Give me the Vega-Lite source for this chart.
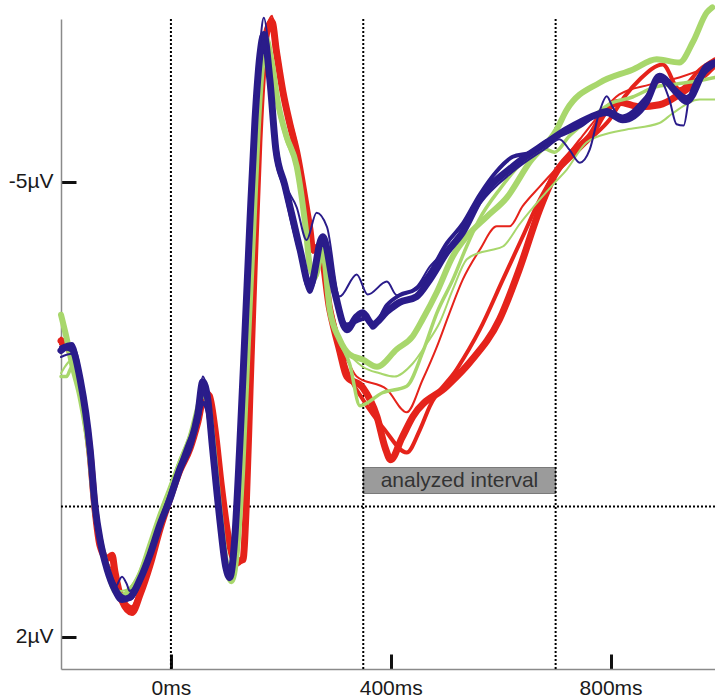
{
  "$schema": "https://vega.github.io/schema/vega-lite/v6.json",
  "width": 654,
  "height": 650,
  "autosize": {"type": "none"},
  "padding": {"left": 61, "top": 19, "right": 0, "bottom": 29},
  "background": "white",
  "config": {"view": {"stroke": null}, "font": "Liberation Sans"},
  "datasets": {
    "erp": [
      {"trace":"R1","ms":-200,"uv":-2.55},{"trace":"R1","ms":-190,"uv":-2.5},{"trace":"R1","ms":-180,"uv":-2.3},{"trace":"R1","ms":-165,"uv":-1.85},{"trace":"R1","ms":-147,"uv":-0.8},{"trace":"R1","ms":-138,"uv":0.05},{"trace":"R1","ms":-129,"uv":0.6},{"trace":"R1","ms":-116,"uv":0.8},{"trace":"R1","ms":-107,"uv":0.75},{"trace":"R1","ms":-102,"uv":1.0},{"trace":"R1","ms":-89,"uv":1.45},{"trace":"R1","ms":-71,"uv":1.63},{"trace":"R1","ms":-56,"uv":1.35},{"trace":"R1","ms":-38,"uv":0.9},{"trace":"R1","ms":-20,"uv":0.35},{"trace":"R1","ms":-2,"uv":-0.12},{"trace":"R1","ms":16,"uv":-0.55},{"trace":"R1","ms":35,"uv":-0.9},{"trace":"R1","ms":49,"uv":-1.3},{"trace":"R1","ms":62,"uv":-1.75},{"trace":"R1","ms":70,"uv":-1.7},{"trace":"R1","ms":80,"uv":-1.2},{"trace":"R1","ms":92,"uv":-0.3},{"trace":"R1","ms":105,"uv":0.5},{"trace":"R1","ms":118,"uv":0.85},{"trace":"R1","ms":131,"uv":0.82},{"trace":"R1","ms":137,"uv":0.0},{"trace":"R1","ms":144,"uv":-1.8},{"trace":"R1","ms":152,"uv":-3.8},{"trace":"R1","ms":160,"uv":-5.6},{"trace":"R1","ms":168,"uv":-6.8},{"trace":"R1","ms":176,"uv":-7.35},{"trace":"R1","ms":184,"uv":-7.45},{"trace":"R1","ms":192,"uv":-7.0},{"trace":"R1","ms":204,"uv":-6.37},{"trace":"R1","ms":216,"uv":-5.9},{"trace":"R1","ms":229,"uv":-5.45},{"trace":"R1","ms":247,"uv":-4.57},{"trace":"R1","ms":253,"uv":-4.26},{"trace":"R1","ms":258,"uv":-3.95},{"trace":"R1","ms":270,"uv":-4.0},{"trace":"R1","ms":289,"uv":-3.03},{"trace":"R1","ms":307,"uv":-2.4},{"trace":"R1","ms":320,"uv":-2.0},{"trace":"R1","ms":349,"uv":-1.83},{"trace":"R1","ms":375,"uv":-1.38},{"trace":"R1","ms":390,"uv":-0.9},{"trace":"R1","ms":400,"uv":-0.72},{"trace":"R1","ms":420,"uv":-1.05},{"trace":"R1","ms":440,"uv":-1.38},{"trace":"R1","ms":502,"uv":-1.85},{"trace":"R1","ms":544,"uv":-2.22},{"trace":"R1","ms":598,"uv":-2.88},{"trace":"R1","ms":634,"uv":-3.65},{"trace":"R1","ms":671,"uv":-4.57},{"trace":"R1","ms":698,"uv":-5.1},{"trace":"R1","ms":731,"uv":-5.45},{"trace":"R1","ms":762,"uv":-5.69},{"trace":"R1","ms":793,"uv":-6.11},{"trace":"R1","ms":816,"uv":-6.22},{"trace":"R1","ms":853,"uv":-6.15},{"trace":"R1","ms":889,"uv":-6.18},{"trace":"R1","ms":925,"uv":-6.34},{"trace":"R1","ms":975,"uv":-6.68},{"trace":"R1","ms":990,"uv":-6.8},

      {"trace":"R2","ms":-200,"uv":-2.5},{"trace":"R2","ms":-180,"uv":-2.35},{"trace":"R2","ms":-165,"uv":-1.9},{"trace":"R2","ms":-147,"uv":-0.85},{"trace":"R2","ms":-138,"uv":0.0},{"trace":"R2","ms":-129,"uv":0.55},{"trace":"R2","ms":-116,"uv":0.9},{"trace":"R2","ms":-102,"uv":1.15},{"trace":"R2","ms":-89,"uv":1.4},{"trace":"R2","ms":-71,"uv":1.55},{"trace":"R2","ms":-56,"uv":1.3},{"trace":"R2","ms":-38,"uv":0.85},{"trace":"R2","ms":-20,"uv":0.3},{"trace":"R2","ms":-2,"uv":-0.15},{"trace":"R2","ms":16,"uv":-0.6},{"trace":"R2","ms":35,"uv":-0.95},{"trace":"R2","ms":49,"uv":-1.35},{"trace":"R2","ms":62,"uv":-1.7},{"trace":"R2","ms":70,"uv":-1.65},{"trace":"R2","ms":80,"uv":-1.15},{"trace":"R2","ms":92,"uv":-0.25},{"trace":"R2","ms":105,"uv":0.55},{"trace":"R2","ms":118,"uv":0.9},{"trace":"R2","ms":131,"uv":0.8},{"trace":"R2","ms":137,"uv":-0.1},{"trace":"R2","ms":144,"uv":-1.9},{"trace":"R2","ms":152,"uv":-3.9},{"trace":"R2","ms":160,"uv":-5.7},{"trace":"R2","ms":168,"uv":-6.9},{"trace":"R2","ms":176,"uv":-7.4},{"trace":"R2","ms":184,"uv":-7.5},{"trace":"R2","ms":192,"uv":-7.1},{"trace":"R2","ms":204,"uv":-6.4},{"trace":"R2","ms":229,"uv":-5.5},{"trace":"R2","ms":247,"uv":-4.6},{"trace":"R2","ms":253,"uv":-4.3},{"trace":"R2","ms":258,"uv":-4.0},{"trace":"R2","ms":270,"uv":-3.95},{"trace":"R2","ms":289,"uv":-3.1},{"trace":"R2","ms":307,"uv":-2.5},{"trace":"R2","ms":320,"uv":-2.11},{"trace":"R2","ms":349,"uv":-1.65},{"trace":"R2","ms":389,"uv":-1.18},{"trace":"R2","ms":429,"uv":-0.83},{"trace":"R2","ms":453,"uv":-1.18},{"trace":"R2","ms":471,"uv":-1.54},{"trace":"R2","ms":520,"uv":-2.11},{"trace":"R2","ms":562,"uv":-2.72},{"trace":"R2","ms":604,"uv":-3.49},{"trace":"R2","ms":640,"uv":-4.15},{"trace":"R2","ms":671,"uv":-4.72},{"trace":"R2","ms":698,"uv":-5.11},{"trace":"R2","ms":725,"uv":-5.34},{"trace":"R2","ms":762,"uv":-5.65},{"trace":"R2","ms":798,"uv":-5.95},{"trace":"R2","ms":825,"uv":-6.3},{"trace":"R2","ms":853,"uv":-6.57},{"trace":"R2","ms":895,"uv":-6.8},{"trace":"R2","ms":925,"uv":-6.42},{"trace":"R2","ms":962,"uv":-6.72},{"trace":"R2","ms":990,"uv":-6.88},

      {"trace":"R3","ms":-200,"uv":-2.6},{"trace":"R3","ms":-180,"uv":-2.4},{"trace":"R3","ms":-165,"uv":-1.9},{"trace":"R3","ms":-147,"uv":-0.82},{"trace":"R3","ms":-138,"uv":0.02},{"trace":"R3","ms":-129,"uv":0.58},{"trace":"R3","ms":-116,"uv":0.85},{"trace":"R3","ms":-102,"uv":1.1},{"trace":"R3","ms":-89,"uv":1.4},{"trace":"R3","ms":-71,"uv":1.58},{"trace":"R3","ms":-56,"uv":1.32},{"trace":"R3","ms":-38,"uv":0.88},{"trace":"R3","ms":-20,"uv":0.32},{"trace":"R3","ms":-2,"uv":-0.1},{"trace":"R3","ms":16,"uv":-0.58},{"trace":"R3","ms":35,"uv":-0.92},{"trace":"R3","ms":49,"uv":-1.32},{"trace":"R3","ms":62,"uv":-1.78},{"trace":"R3","ms":70,"uv":-1.72},{"trace":"R3","ms":80,"uv":-1.25},{"trace":"R3","ms":92,"uv":-0.35},{"trace":"R3","ms":105,"uv":0.45},{"trace":"R3","ms":118,"uv":0.8},{"trace":"R3","ms":131,"uv":0.78},{"trace":"R3","ms":137,"uv":-0.05},{"trace":"R3","ms":144,"uv":-1.85},{"trace":"R3","ms":152,"uv":-3.85},{"trace":"R3","ms":160,"uv":-5.65},{"trace":"R3","ms":168,"uv":-6.85},{"trace":"R3","ms":176,"uv":-7.4},{"trace":"R3","ms":184,"uv":-7.55},{"trace":"R3","ms":192,"uv":-7.05},{"trace":"R3","ms":204,"uv":-6.35},{"trace":"R3","ms":229,"uv":-5.4},{"trace":"R3","ms":247,"uv":-4.5},{"trace":"R3","ms":253,"uv":-4.2},{"trace":"R3","ms":258,"uv":-3.9},{"trace":"R3","ms":270,"uv":-3.95},{"trace":"R3","ms":289,"uv":-3.0},{"trace":"R3","ms":307,"uv":-2.42},{"trace":"R3","ms":320,"uv":-2.26},{"trace":"R3","ms":338,"uv":-2.0},{"trace":"R3","ms":393,"uv":-1.8},{"trace":"R3","ms":429,"uv":-1.45},{"trace":"R3","ms":458,"uv":-1.95},{"trace":"R3","ms":484,"uv":-2.46},{"trace":"R3","ms":507,"uv":-2.98},{"trace":"R3","ms":531,"uv":-3.49},{"trace":"R3","ms":562,"uv":-3.95},{"trace":"R3","ms":593,"uv":-4.31},{"trace":"R3","ms":616,"uv":-4.31},{"trace":"R3","ms":640,"uv":-4.62},{"trace":"R3","ms":671,"uv":-4.92},{"trace":"R3","ms":707,"uv":-5.26},{"trace":"R3","ms":744,"uv":-5.65},{"trace":"R3","ms":780,"uv":-6.03},{"trace":"R3","ms":816,"uv":-6.34},{"trace":"R3","ms":871,"uv":-6.49},{"trace":"R3","ms":925,"uv":-6.6},{"trace":"R3","ms":990,"uv":-6.8},

      {"trace":"G1","ms":-200,"uv":-2.95},{"trace":"G1","ms":-190,"uv":-2.6},{"trace":"G1","ms":-180,"uv":-2.2},{"trace":"G1","ms":-165,"uv":-1.7},{"trace":"G1","ms":-147,"uv":-0.75},{"trace":"G1","ms":-138,"uv":0.05},{"trace":"G1","ms":-129,"uv":0.5},{"trace":"G1","ms":-116,"uv":0.95},{"trace":"G1","ms":-102,"uv":1.3},{"trace":"G1","ms":-89,"uv":1.38},{"trace":"G1","ms":-75,"uv":1.3},{"trace":"G1","ms":-56,"uv":1.05},{"trace":"G1","ms":-38,"uv":0.6},{"trace":"G1","ms":-20,"uv":0.15},{"trace":"G1","ms":-2,"uv":-0.25},{"trace":"G1","ms":16,"uv":-0.65},{"trace":"G1","ms":35,"uv":-1.05},{"trace":"G1","ms":49,"uv":-1.5},{"trace":"G1","ms":58,"uv":-1.78},{"trace":"G1","ms":67,"uv":-1.6},{"trace":"G1","ms":76,"uv":-1.0},{"trace":"G1","ms":89,"uv":0.1},{"trace":"G1","ms":100,"uv":0.85},{"trace":"G1","ms":110,"uv":1.15},{"trace":"G1","ms":120,"uv":0.7},{"trace":"G1","ms":130,"uv":-0.6},{"trace":"G1","ms":140,"uv":-2.5},{"trace":"G1","ms":150,"uv":-4.3},{"trace":"G1","ms":158,"uv":-5.8},{"trace":"G1","ms":166,"uv":-6.8},{"trace":"G1","ms":173,"uv":-7.2},{"trace":"G1","ms":182,"uv":-6.9},{"trace":"G1","ms":195,"uv":-6.2},{"trace":"G1","ms":210,"uv":-5.7},{"trace":"G1","ms":229,"uv":-5.23},{"trace":"G1","ms":245,"uv":-4.3},{"trace":"G1","ms":253,"uv":-3.69},{"trace":"G1","ms":262,"uv":-3.54},{"trace":"G1","ms":276,"uv":-3.95},{"trace":"G1","ms":289,"uv":-3.03},{"trace":"G1","ms":307,"uv":-2.57},{"trace":"G1","ms":325,"uv":-2.34},{"trace":"G1","ms":349,"uv":-2.26},{"trace":"G1","ms":375,"uv":-2.15},{"trace":"G1","ms":411,"uv":-2.42},{"trace":"G1","ms":440,"uv":-2.62},{"trace":"G1","ms":458,"uv":-2.88},{"trace":"G1","ms":484,"uv":-3.3},{"trace":"G1","ms":513,"uv":-3.85},{"trace":"G1","ms":538,"uv":-4.15},{"trace":"G1","ms":575,"uv":-4.46},{"trace":"G1","ms":611,"uv":-4.75},{"trace":"G1","ms":653,"uv":-5.3},{"trace":"G1","ms":702,"uv":-5.8},{"trace":"G1","ms":720,"uv":-6.1},{"trace":"G1","ms":780,"uv":-6.52},{"trace":"G1","ms":840,"uv":-6.72},{"trace":"G1","ms":884,"uv":-6.88},{"trace":"G1","ms":925,"uv":-6.83},{"trace":"G1","ms":950,"uv":-7.15},{"trace":"G1","ms":975,"uv":-7.6},{"trace":"G1","ms":985,"uv":-7.68},

      {"trace":"G2","ms":-200,"uv":-2.0},{"trace":"G2","ms":-190,"uv":-2.0},{"trace":"G2","ms":-180,"uv":-2.15},{"trace":"G2","ms":-165,"uv":-1.75},{"trace":"G2","ms":-147,"uv":-0.8},{"trace":"G2","ms":-138,"uv":0.0},{"trace":"G2","ms":-129,"uv":0.48},{"trace":"G2","ms":-116,"uv":0.9},{"trace":"G2","ms":-102,"uv":1.25},{"trace":"G2","ms":-89,"uv":1.35},{"trace":"G2","ms":-75,"uv":1.28},{"trace":"G2","ms":-56,"uv":1.0},{"trace":"G2","ms":-38,"uv":0.58},{"trace":"G2","ms":-20,"uv":0.12},{"trace":"G2","ms":-2,"uv":-0.28},{"trace":"G2","ms":16,"uv":-0.7},{"trace":"G2","ms":35,"uv":-1.1},{"trace":"G2","ms":49,"uv":-1.45},{"trace":"G2","ms":58,"uv":-1.7},{"trace":"G2","ms":67,"uv":-1.55},{"trace":"G2","ms":76,"uv":-0.95},{"trace":"G2","ms":89,"uv":0.15},{"trace":"G2","ms":100,"uv":0.88},{"trace":"G2","ms":110,"uv":1.12},{"trace":"G2","ms":120,"uv":0.72},{"trace":"G2","ms":130,"uv":-0.55},{"trace":"G2","ms":140,"uv":-2.4},{"trace":"G2","ms":150,"uv":-4.2},{"trace":"G2","ms":158,"uv":-5.7},{"trace":"G2","ms":166,"uv":-6.7},{"trace":"G2","ms":173,"uv":-7.1},{"trace":"G2","ms":182,"uv":-6.85},{"trace":"G2","ms":195,"uv":-6.15},{"trace":"G2","ms":210,"uv":-5.65},{"trace":"G2","ms":229,"uv":-5.2},{"trace":"G2","ms":245,"uv":-4.25},{"trace":"G2","ms":253,"uv":-3.7},{"trace":"G2","ms":262,"uv":-3.5},{"trace":"G2","ms":276,"uv":-3.9},{"trace":"G2","ms":289,"uv":-3.0},{"trace":"G2","ms":307,"uv":-2.55},{"trace":"G2","ms":325,"uv":-2.2},{"trace":"G2","ms":344,"uv":-1.55},{"trace":"G2","ms":385,"uv":-1.75},{"trace":"G2","ms":429,"uv":-1.85},{"trace":"G2","ms":458,"uv":-2.37},{"trace":"G2","ms":484,"uv":-2.98},{"trace":"G2","ms":513,"uv":-3.49},{"trace":"G2","ms":538,"uv":-4.0},{"trace":"G2","ms":560,"uv":-4.4},{"trace":"G2","ms":600,"uv":-4.9},{"trace":"G2","ms":640,"uv":-5.3},{"trace":"G2","ms":680,"uv":-5.5},{"trace":"G2","ms":698,"uv":-5.45},{"trace":"G2","ms":725,"uv":-5.7},{"trace":"G2","ms":760,"uv":-5.95},{"trace":"G2","ms":800,"uv":-6.2},{"trace":"G2","ms":840,"uv":-6.3},{"trace":"G2","ms":880,"uv":-6.45},{"trace":"G2","ms":920,"uv":-6.5},{"trace":"G2","ms":960,"uv":-6.55},{"trace":"G2","ms":990,"uv":-6.6},

      {"trace":"G3","ms":-200,"uv":-2.05},{"trace":"G3","ms":-180,"uv":-2.25},{"trace":"G3","ms":-165,"uv":-1.72},{"trace":"G3","ms":-147,"uv":-0.7},{"trace":"G3","ms":-138,"uv":0.08},{"trace":"G3","ms":-129,"uv":0.55},{"trace":"G3","ms":-116,"uv":1.0},{"trace":"G3","ms":-102,"uv":1.28},{"trace":"G3","ms":-89,"uv":1.3},{"trace":"G3","ms":-75,"uv":1.25},{"trace":"G3","ms":-56,"uv":1.0},{"trace":"G3","ms":-38,"uv":0.55},{"trace":"G3","ms":-20,"uv":0.1},{"trace":"G3","ms":-2,"uv":-0.3},{"trace":"G3","ms":16,"uv":-0.72},{"trace":"G3","ms":35,"uv":-1.1},{"trace":"G3","ms":49,"uv":-1.55},{"trace":"G3","ms":58,"uv":-1.8},{"trace":"G3","ms":67,"uv":-1.62},{"trace":"G3","ms":76,"uv":-1.05},{"trace":"G3","ms":89,"uv":0.05},{"trace":"G3","ms":100,"uv":0.8},{"trace":"G3","ms":110,"uv":1.1},{"trace":"G3","ms":120,"uv":0.75},{"trace":"G3","ms":130,"uv":-0.5},{"trace":"G3","ms":140,"uv":-2.45},{"trace":"G3","ms":150,"uv":-4.25},{"trace":"G3","ms":158,"uv":-5.75},{"trace":"G3","ms":166,"uv":-6.75},{"trace":"G3","ms":173,"uv":-7.15},{"trace":"G3","ms":182,"uv":-6.9},{"trace":"G3","ms":195,"uv":-6.25},{"trace":"G3","ms":210,"uv":-5.75},{"trace":"G3","ms":229,"uv":-5.3},{"trace":"G3","ms":245,"uv":-4.35},{"trace":"G3","ms":253,"uv":-3.75},{"trace":"G3","ms":262,"uv":-3.6},{"trace":"G3","ms":276,"uv":-3.95},{"trace":"G3","ms":289,"uv":-3.1},{"trace":"G3","ms":307,"uv":-2.6},{"trace":"G3","ms":320,"uv":-2.4},{"trace":"G3","ms":349,"uv":-2.15},{"trace":"G3","ms":380,"uv":-2.05},{"trace":"G3","ms":407,"uv":-2.0},{"trace":"G3","ms":440,"uv":-2.2},{"trace":"G3","ms":465,"uv":-2.5},{"trace":"G3","ms":489,"uv":-2.83},{"trace":"G3","ms":513,"uv":-3.34},{"trace":"G3","ms":538,"uv":-3.8},{"trace":"G3","ms":560,"uv":-3.9},{"trace":"G3","ms":585,"uv":-3.95},{"trace":"G3","ms":604,"uv":-4.0},{"trace":"G3","ms":635,"uv":-4.35},{"trace":"G3","ms":671,"uv":-4.72},{"trace":"G3","ms":698,"uv":-4.98},{"trace":"G3","ms":720,"uv":-5.18},{"trace":"G3","ms":756,"uv":-5.6},{"trace":"G3","ms":800,"uv":-5.75},{"trace":"G3","ms":829,"uv":-5.8},{"trace":"G3","ms":889,"uv":-5.9},{"trace":"G3","ms":913,"uv":-6.05},{"trace":"G3","ms":962,"uv":-6.26},{"trace":"G3","ms":990,"uv":-6.26},

      {"trace":"B1","ms":-200,"uv":-2.4},{"trace":"B1","ms":-190,"uv":-2.45},{"trace":"B1","ms":-180,"uv":-2.42},{"trace":"B1","ms":-165,"uv":-1.95},{"trace":"B1","ms":-147,"uv":-0.88},{"trace":"B1","ms":-138,"uv":0},{"trace":"B1","ms":-129,"uv":0.51},{"trace":"B1","ms":-116,"uv":0.97},{"trace":"B1","ms":-102,"uv":1.28},{"trace":"B1","ms":-89,"uv":1.43},{"trace":"B1","ms":-75,"uv":1.4},{"trace":"B1","ms":-56,"uv":1.12},{"trace":"B1","ms":-38,"uv":0.74},{"trace":"B1","ms":-20,"uv":0.28},{"trace":"B1","ms":-2,"uv":-0.11},{"trace":"B1","ms":16,"uv":-0.57},{"trace":"B1","ms":35,"uv":-0.95},{"trace":"B1","ms":49,"uv":-1.42},{"trace":"B1","ms":58,"uv":-1.92},{"trace":"B1","ms":67,"uv":-1.65},{"trace":"B1","ms":76,"uv":-0.88},{"trace":"B1","ms":89,"uv":0.2},{"trace":"B1","ms":100,"uv":0.94},{"trace":"B1","ms":107,"uv":1.09},{"trace":"B1","ms":116,"uv":0.51},{"trace":"B1","ms":125,"uv":-0.88},{"trace":"B1","ms":135,"uv":-2.72},{"trace":"B1","ms":144,"uv":-4.42},{"trace":"B1","ms":153,"uv":-5.95},{"trace":"B1","ms":162,"uv":-6.95},{"trace":"B1","ms":169,"uv":-7.26},{"trace":"B1","ms":180,"uv":-6.57},{"trace":"B1","ms":191,"uv":-5.49},{"trace":"B1","ms":207,"uv":-4.95},{"trace":"B1","ms":220,"uv":-4.49},{"trace":"B1","ms":235,"uv":-3.95},{"trace":"B1","ms":253,"uv":-3.38},{"trace":"B1","ms":276,"uv":-4.15},{"trace":"B1","ms":298,"uv":-3.3},{"trace":"B1","ms":320,"uv":-2.72},{"trace":"B1","ms":338,"uv":-2.92},{"trace":"B1","ms":349,"uv":-2.98},{"trace":"B1","ms":367,"uv":-2.8},{"trace":"B1","ms":393,"uv":-3.0},{"trace":"B1","ms":416,"uv":-3.14},{"trace":"B1","ms":447,"uv":-3.23},{"trace":"B1","ms":471,"uv":-3.49},{"trace":"B1","ms":502,"uv":-3.91},{"trace":"B1","ms":531,"uv":-4.22},{"trace":"B1","ms":562,"uv":-4.72},{"trace":"B1","ms":622,"uv":-5.23},{"trace":"B1","ms":684,"uv":-5.6},{"trace":"B1","ms":720,"uv":-5.8},{"trace":"B1","ms":744,"uv":-5.91},{"trace":"B1","ms":793,"uv":-6.06},{"trace":"B1","ms":822,"uv":-5.95},{"trace":"B1","ms":865,"uv":-6.22},{"trace":"B1","ms":889,"uv":-6.62},{"trace":"B1","ms":920,"uv":-6.37},{"trace":"B1","ms":938,"uv":-6.23},{"trace":"B1","ms":975,"uv":-6.77},{"trace":"B1","ms":990,"uv":-6.83},

      {"trace":"B2","ms":-200,"uv":-2.3},{"trace":"B2","ms":-180,"uv":-2.35},{"trace":"B2","ms":-165,"uv":-1.9},{"trace":"B2","ms":-147,"uv":-0.85},{"trace":"B2","ms":-138,"uv":0.0},{"trace":"B2","ms":-129,"uv":0.5},{"trace":"B2","ms":-116,"uv":0.95},{"trace":"B2","ms":-102,"uv":1.25},{"trace":"B2","ms":-89,"uv":1.08},{"trace":"B2","ms":-80,"uv":1.2},{"trace":"B2","ms":-75,"uv":1.3},{"trace":"B2","ms":-56,"uv":1.08},{"trace":"B2","ms":-38,"uv":0.7},{"trace":"B2","ms":-20,"uv":0.25},{"trace":"B2","ms":-2,"uv":-0.15},{"trace":"B2","ms":16,"uv":-0.6},{"trace":"B2","ms":35,"uv":-1.0},{"trace":"B2","ms":49,"uv":-1.5},{"trace":"B2","ms":58,"uv":-2.0},{"trace":"B2","ms":67,"uv":-1.7},{"trace":"B2","ms":76,"uv":-0.9},{"trace":"B2","ms":89,"uv":0.15},{"trace":"B2","ms":100,"uv":0.9},{"trace":"B2","ms":107,"uv":1.05},{"trace":"B2","ms":116,"uv":0.45},{"trace":"B2","ms":125,"uv":-0.95},{"trace":"B2","ms":135,"uv":-2.8},{"trace":"B2","ms":144,"uv":-4.5},{"trace":"B2","ms":153,"uv":-6.1},{"trace":"B2","ms":162,"uv":-7.1},{"trace":"B2","ms":169,"uv":-7.52},{"trace":"B2","ms":176,"uv":-7.2},{"trace":"B2","ms":185,"uv":-6.2},{"trace":"B2","ms":196,"uv":-5.4},{"trace":"B2","ms":207,"uv":-5.0},{"trace":"B2","ms":229,"uv":-4.6},{"trace":"B2","ms":247,"uv":-4.1},{"trace":"B2","ms":265,"uv":-4.52},{"trace":"B2","ms":284,"uv":-4.3},{"trace":"B2","ms":307,"uv":-3.23},{"trace":"B2","ms":338,"uv":-3.57},{"trace":"B2","ms":358,"uv":-3.26},{"trace":"B2","ms":393,"uv":-3.46},{"trace":"B2","ms":411,"uv":-3.25},{"trace":"B2","ms":447,"uv":-3.38},{"trace":"B2","ms":471,"uv":-3.69},{"trace":"B2","ms":502,"uv":-3.95},{"trace":"B2","ms":531,"uv":-4.22},{"trace":"B2","ms":562,"uv":-4.65},{"trace":"B2","ms":622,"uv":-5.15},{"trace":"B2","ms":684,"uv":-5.52},{"trace":"B2","ms":707,"uv":-5.65},{"trace":"B2","ms":725,"uv":-5.49},{"trace":"B2","ms":744,"uv":-5.29},{"trace":"B2","ms":762,"uv":-5.49},{"trace":"B2","ms":780,"uv":-6.08},{"trace":"B2","ms":793,"uv":-6.31},{"trace":"B2","ms":804,"uv":-6.14},{"trace":"B2","ms":822,"uv":-5.95},{"trace":"B2","ms":865,"uv":-6.22},{"trace":"B2","ms":889,"uv":-6.57},{"trace":"B2","ms":907,"uv":-6.26},{"trace":"B2","ms":920,"uv":-5.88},{"trace":"B2","ms":933,"uv":-5.86},{"trace":"B2","ms":944,"uv":-6.34},{"trace":"B2","ms":975,"uv":-6.77},{"trace":"B2","ms":990,"uv":-6.85},

      {"trace":"B3","ms":-200,"uv":-2.45},{"trace":"B3","ms":-180,"uv":-2.5},{"trace":"B3","ms":-165,"uv":-2.0},{"trace":"B3","ms":-147,"uv":-0.9},{"trace":"B3","ms":-138,"uv":-0.05},{"trace":"B3","ms":-129,"uv":0.45},{"trace":"B3","ms":-116,"uv":0.92},{"trace":"B3","ms":-102,"uv":1.22},{"trace":"B3","ms":-89,"uv":1.38},{"trace":"B3","ms":-75,"uv":1.42},{"trace":"B3","ms":-56,"uv":1.15},{"trace":"B3","ms":-38,"uv":0.7},{"trace":"B3","ms":-20,"uv":0.25},{"trace":"B3","ms":-2,"uv":-0.18},{"trace":"B3","ms":16,"uv":-0.62},{"trace":"B3","ms":35,"uv":-1.05},{"trace":"B3","ms":49,"uv":-1.3},{"trace":"B3","ms":58,"uv":-1.6},{"trace":"B3","ms":67,"uv":-1.45},{"trace":"B3","ms":76,"uv":-0.8},{"trace":"B3","ms":89,"uv":0.25},{"trace":"B3","ms":100,"uv":0.98},{"trace":"B3","ms":107,"uv":1.12},{"trace":"B3","ms":116,"uv":0.55},{"trace":"B3","ms":125,"uv":-0.8},{"trace":"B3","ms":135,"uv":-2.6},{"trace":"B3","ms":144,"uv":-4.3},{"trace":"B3","ms":153,"uv":-5.85},{"trace":"B3","ms":162,"uv":-6.85},{"trace":"B3","ms":169,"uv":-7.15},{"trace":"B3","ms":180,"uv":-6.5},{"trace":"B3","ms":191,"uv":-5.4},{"trace":"B3","ms":207,"uv":-4.9},{"trace":"B3","ms":220,"uv":-4.4},{"trace":"B3","ms":235,"uv":-3.9},{"trace":"B3","ms":253,"uv":-3.3},{"trace":"B3","ms":276,"uv":-4.1},{"trace":"B3","ms":298,"uv":-3.25},{"trace":"B3","ms":320,"uv":-2.8},{"trace":"B3","ms":338,"uv":-2.85},{"trace":"B3","ms":356,"uv":-2.9},{"trace":"B3","ms":367,"uv":-2.75},{"trace":"B3","ms":393,"uv":-3.1},{"trace":"B3","ms":416,"uv":-3.25},{"trace":"B3","ms":447,"uv":-3.35},{"trace":"B3","ms":471,"uv":-3.6},{"trace":"B3","ms":502,"uv":-4.05},{"trace":"B3","ms":531,"uv":-4.35},{"trace":"B3","ms":562,"uv":-4.8},{"trace":"B3","ms":592,"uv":-5.15},{"trace":"B3","ms":622,"uv":-5.38},{"trace":"B3","ms":655,"uv":-5.45},{"trace":"B3","ms":684,"uv":-5.62},{"trace":"B3","ms":720,"uv":-5.75},{"trace":"B3","ms":744,"uv":-5.85},{"trace":"B3","ms":793,"uv":-6.1},{"trace":"B3","ms":822,"uv":-6.0},{"trace":"B3","ms":865,"uv":-6.3},{"trace":"B3","ms":889,"uv":-6.55},{"trace":"B3","ms":920,"uv":-6.4},{"trace":"B3","ms":938,"uv":-6.3},{"trace":"B3","ms":975,"uv":-6.7},{"trace":"B3","ms":990,"uv":-6.8}
    ]
  },
  "layer": [
    {
      "data": {"values": [{"start": 350, "end": 700, "lo": -0.6, "hi": -0.2}]},
      "mark": {"type": "rect", "fill": "#9b9b9b", "stroke": "#7a7a7a", "strokeWidth": 1},
      "encoding": {
        "x": {"field": "start", "type": "quantitative", "scale": {"domain": [-200, 990], "nice": false, "zero": false},
              "axis": {"values": [0, 400, 800], "labelExpr": "datum.value + 'ms'", "title": null, "grid": false, "tickSize": -15, "tickWidth": 3, "tickColor": "#111", "labelPadding": 23, "labelFontSize": 21, "labelFont": "Liberation Sans", "labelColor": "#1a1a1a", "domainColor": "#8a8a8a", "domainWidth": 1.5, "labelFlush": false}},
        "x2": {"field": "end"},
        "y": {"field": "lo", "type": "quantitative", "scale": {"domain": [-7.5, 2.5], "reverse": true, "nice": false, "zero": false},
              "axis": {"values": [-5, 2], "labelExpr": "datum.value + 'µV'", "title": null, "grid": false, "tickSize": -15, "tickWidth": 3, "tickColor": "#111", "labelPadding": 23, "labelFontSize": 21, "labelFont": "Liberation Sans", "labelColor": "#1a1a1a", "domainColor": "#8a8a8a", "domainWidth": 1.5, "labelFlush": false}},
        "y2": {"field": "hi"}
      }
    },
    {
      "data": {"values": [{"ms": 525, "uv": -0.4, "label": "analyzed interval"}]},
      "mark": {"type": "text", "fontSize": 21, "font": "Liberation Sans", "color": "#333333", "align": "center", "baseline": "middle"},
      "encoding": {
        "x": {"field": "ms", "type": "quantitative"},
        "y": {"field": "uv", "type": "quantitative"},
        "text": {"field": "label"}
      }
    },
    {
      "data": {"values": [{"ms": 0}, {"ms": 350}, {"ms": 700}]},
      "mark": {"type": "rule", "color": "#000000", "strokeWidth": 2, "strokeDash": [2, 2]},
      "encoding": {"x": {"field": "ms", "type": "quantitative"}}
    },
    {
      "data": {"values": [{"uv": 0}]},
      "mark": {"type": "rule", "color": "#000000", "strokeWidth": 2, "strokeDash": [2, 2]},
      "encoding": {"y": {"field": "uv", "type": "quantitative"}}
    },
    {
      "data": {"name": "erp"},
      "transform": [{"filter": {"field": "trace", "oneOf": ["R1", "R2", "R3"]}}],
      "mark": {"type": "line", "interpolate": "monotone", "strokeCap": "round", "strokeJoin": "round", "color": "#e5231b", "clip": false},
      "encoding": {
        "x": {"field": "ms", "type": "quantitative"},
        "y": {"field": "uv", "type": "quantitative"},
        "detail": {"field": "trace"},
        "strokeWidth": {"field": "trace", "type": "ordinal", "legend": null,
          "scale": {"type": "ordinal", "domain": ["R1","R2","R3","G1","G2","G3","B1","B2","B3"], "range": [7, 4, 2, 6, 3.5, 2, 7, 2, 4]}}
      }
    },
    {
      "data": {"name": "erp"},
      "transform": [{"filter": {"field": "trace", "oneOf": ["G1", "G2", "G3"]}}],
      "mark": {"type": "line", "interpolate": "monotone", "strokeCap": "round", "strokeJoin": "round", "color": "#a8d76c", "clip": false},
      "encoding": {
        "x": {"field": "ms", "type": "quantitative"},
        "y": {"field": "uv", "type": "quantitative"},
        "detail": {"field": "trace"},
        "strokeWidth": {"field": "trace", "type": "ordinal", "legend": null,
          "scale": {"type": "ordinal", "domain": ["R1","R2","R3","G1","G2","G3","B1","B2","B3"], "range": [7, 4, 2, 6, 3.5, 2, 7, 2, 4]}}
      }
    },
    {
      "data": {"name": "erp"},
      "transform": [{"filter": {"field": "trace", "oneOf": ["B1", "B2", "B3"]}}],
      "mark": {"type": "line", "interpolate": "monotone", "strokeCap": "round", "strokeJoin": "round", "color": "#2a1c8a", "clip": false},
      "encoding": {
        "x": {"field": "ms", "type": "quantitative"},
        "y": {"field": "uv", "type": "quantitative"},
        "detail": {"field": "trace"},
        "strokeWidth": {"field": "trace", "type": "ordinal", "legend": null,
          "scale": {"type": "ordinal", "domain": ["R1","R2","R3","G1","G2","G3","B1","B2","B3"], "range": [7, 4, 2, 6, 3.5, 2, 7, 2, 4]}}
      }
    }
  ]
}
